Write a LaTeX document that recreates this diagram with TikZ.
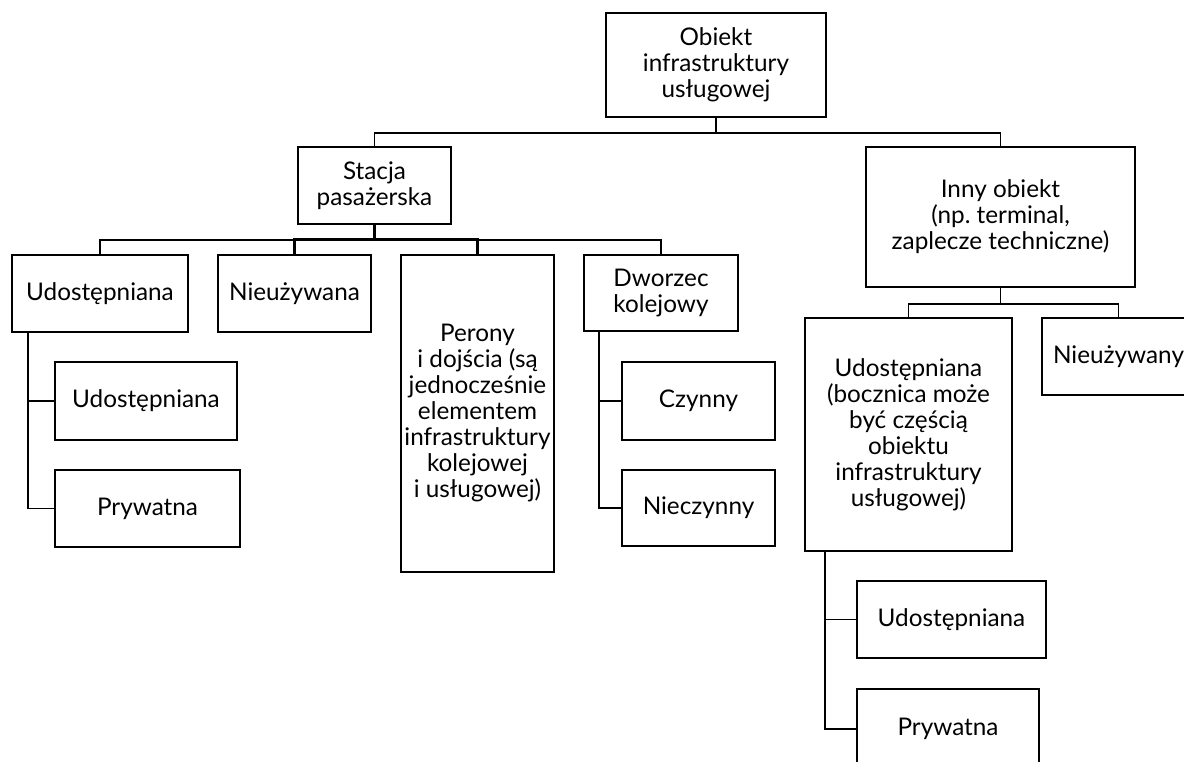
\documentclass[tikz,border=0pt]{standalone}
\usepackage{fontspec}
\setmainfont{Lato}
\frenchspacing
\begin{document}
\begin{tikzpicture}[x=1pt,y=-1pt,
  box/.style={draw=black,line width=1.8pt,fill=white,inner sep=0pt,align=center,
    font=\fontsize{24.3}{26}\selectfont},
  conn/.style={draw=black,line width=1.6pt},
  stem/.style={draw=black,line width=3pt}]
\clip (0,0) rectangle (1184,762);
\fill[white] (0,0) rectangle (1184,762);
% level 0
\node[box,minimum width=220pt,minimum height=104pt] (root) at (716,65) {Obiekt\\infrastruktury\\usługowej};
% level 1
\node[box,minimum width=153pt,minimum height=77pt] (stacja) at (374.5,185.5) {Stacja\\pasażerska};
\node[box,minimum width=269pt,minimum height=140pt] (inny) at (1000.5,217) {Inny obiekt\\(np.\ terminal,\\zaplecze techniczne)};
% level 2 under Stacja
\node[box,minimum width=176pt,minimum height=77pt] (udostL) at (100,293.5) {Udostępniana};
\node[box,minimum width=153pt,minimum height=77pt] (nieuz) at (294.5,293.5) {Nieużywana};
\node[box,minimum width=153pt,minimum height=317pt] (perony) at (477.5,413.5) {Perony\\i dojścia (są\\jednocześnie\\elementem\\infrastruktury\\kolejowej\\i usługowej)};
\node[box,minimum width=154pt,minimum height=76pt] (dworzec) at (661,293) {Dworzec\\kolejowy};
% level 2 under Inny
\node[box,minimum width=207pt,minimum height=233pt] (udostB) at (908.5,434.5) {Udostępniana\\(bocznica może\\być częścią\\obiektu\\infrastruktury\\usługowej)};
\node[box,minimum width=153pt,minimum height=77pt] (nieuzy) at (1118.5,356.5) {Nieużywany};
% level 3
\node[box,minimum width=182pt,minimum height=78pt] (sub1) at (146,401) {Udostępniana};
\node[box,minimum width=185pt,minimum height=77pt] (sub2) at (147.5,508.5) {Prywatna};
\node[box,minimum width=153pt,minimum height=78pt] (czynny) at (698.5,401) {Czynny};
\node[box,minimum width=153pt,minimum height=76pt] (nieczynny) at (698.5,508) {Nieczynny};
\node[box,minimum width=189pt,minimum height=77pt] (sub3) at (951.5,619.5) {Udostępniana};
\node[box,minimum width=182pt,minimum height=80pt] (sub4) at (948,729) {Prywatna};
% connectors root
\draw[conn] (root.south) -- ++(0,15) -| (stacja.north);
\draw[conn] (root.south) -- ++(0,15) -| (inny.north);
% connectors stacja
\draw[conn] (stacja.south) -- ++(0,15) -| (udostL.north);
\draw[conn] (stacja.south) -- ++(0,15) -| (dworzec.north);
\draw[stem] (stacja.south) -- ++(0,15) -| (nieuz.north);
\draw[stem] (stacja.south) -- ++(0,15) -| (perony.north);
\draw[conn] (nieuz.north) -- ++(0,-16);
\draw[conn] (perony.north) -- ++(0,-16);
% connectors inny
\draw[conn] (inny.south) -- ++(0,16) -| (udostB.north);
\draw[conn] (inny.south) -- ++(0,16) -| (nieuzy.north);
% side trees
\draw[conn] ([xshift=17pt]udostL.south west) |- (sub1.west);
\draw[conn] ([xshift=17pt]udostL.south west) |- (sub2.west);
\draw[conn] ([xshift=16pt]dworzec.south west) |- (czynny.west);
\draw[conn] ([xshift=16pt]dworzec.south west) |- (nieczynny.west);
\draw[conn] ([xshift=21pt]udostB.south west) |- (sub3.west);
\draw[conn] ([xshift=21pt]udostB.south west) |- (sub4.west);
\end{tikzpicture}
\end{document}
